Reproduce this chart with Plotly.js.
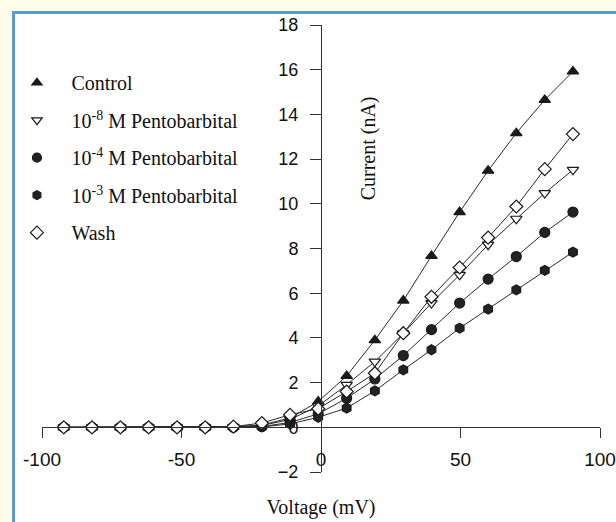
<!DOCTYPE html>
<html>
<head>
<meta charset="utf-8">
<script src="https://cdn.plot.ly/plotly-3.0.1.min.js"></script>
<style>
  html, body { margin: 0; padding: 0; background: #fffcea; }
  #frame {
    position: absolute; left: 12px; top: 11px; width: 604px; height: 511px;
    background: #ffffff;
    border-left: 3px solid #5b9bd5; border-top: 3px solid #5b9bd5;
    box-sizing: border-box;
  }
  #chart { position: absolute; left: 0; top: 0; width: 616px; height: 522px; }
</style>
</head>
<body>
<div id="frame"></div>
<div id="chart"></div>
<script>
// Holding potential steps (mV)
const voltage = [-92.2, -82.1, -71.9, -61.8, -51.6, -41.5, -31.4, -21.2, -11.1, -1.0,
                 9.2, 19.3, 29.5, 39.6, 49.7, 59.9, 70.0, 80.2, 90.3];

// Current responses (nA)
const control = [0, 0, 0, 0, 0, 0, 0.02, 0.10, 0.42, 1.15,
                 2.30, 3.90, 5.67, 7.67, 9.63, 11.48, 13.16, 14.65, 15.92];
const pento8  = [0, 0, 0, 0, 0, 0, 0.02, 0.08, 0.35, 0.95,
                 1.90, 2.94, 4.20, 5.56, 6.82, 8.17, 9.33, 10.48, 11.52];
const pento4  = [0, 0, 0, 0, 0, 0, 0, 0.03, 0.22, 0.60,
                 1.30, 2.16, 3.21, 4.37, 5.56, 6.63, 7.64, 8.72, 9.63];
const pento3  = [0, 0, 0, 0, 0, 0, 0, 0.02, 0.15, 0.45,
                 0.86, 1.63, 2.57, 3.47, 4.44, 5.29, 6.15, 7.02, 7.84];
const wash    = [0, 0, 0, 0, 0, 0, 0.03, 0.19, 0.56, 0.83,
                 1.60, 2.42, 4.21, 5.84, 7.15, 8.49, 9.88, 11.55, 13.12];

const seriesNames = ['Control', '10<sup>-8</sup> M Pentobarbital', '10<sup>-4</sup> M Pentobarbital',
                     '10<sup>-3</sup> M Pentobarbital', 'Wash'];
const xTicks = [-100, -50, 0, 50, 100];

const ink = '#1a1a1a';
const styles = [
  { symbol: 'triangle-up',   size: 10, color: ink,       line: ink, lsize: 9 },
  { symbol: 'triangle-down', size: 10, color: '#ffffff', line: ink, lsize: 9 },
  { symbol: 'circle',        size: 10, color: '#222222', line: ink, lsize: 9 },
  { symbol: 'hexagon',       size: 10, color: '#222222', line: ink, lsize: 9 },
  { symbol: 'diamond',       size: 10, color: '#ffffff', line: ink, lsize: 10 }
];
const seriesData = [control, pento8, pento4, pento3, wash];

const traces = [];
seriesData.forEach((ys, i) => {
  const s = styles[i];
  traces.push({
    x: voltage, y: ys, type: 'scatter', mode: 'lines+markers',
    showlegend: false, hoverinfo: 'skip',
    line: { color: '#2a2a2a', width: 1 },
    marker: { symbol: s.symbol, size: s.size, color: s.color, line: { color: s.line, width: 1.2 } }
  });
});
// Marker-only key entries
seriesData.forEach((ys, i) => {
  const s = styles[i];
  traces.push({
    x: [null], y: [null], type: 'scatter', mode: 'markers',
    name: seriesNames[i], legendgroup: 'g' + i, showlegend: true,
    marker: { symbol: s.symbol, size: s.lsize, color: s.color, line: { color: s.line, width: 1.2 } }
  });
});

const sans = 'Liberation Sans, Arial, sans-serif';
const serif = 'Liberation Serif, Times New Roman, serif';

const layout = {
  width: 616, height: 522,
  margin: { l: 42, r: 16, t: 25, b: 50, autoexpand: false },
  paper_bgcolor: 'rgba(0,0,0,0)', plot_bgcolor: 'rgba(0,0,0,0)',
  showlegend: true,
  xaxis: {
    range: [-100, 100], anchor: 'free', position: 0.1,
    tickvals: xTicks, ticktext: xTicks.map(String),
    ticks: 'outside', ticklen: 10, tickwidth: 1, tickcolor: '#333',
    showline: true, linecolor: '#333', linewidth: 1,
    showgrid: false, zeroline: false,
    tickfont: { family: sans, size: 19, color: '#111' }, ticklabelstandoff: 5,
    ticklabeloverflow: 'allow',
    title: { text: 'Voltage (mV)', font: { family: serif, size: 20, color: '#111' }, standoff: 30 }
  },
  yaxis: {
    range: [-2, 18], anchor: 'free', position: 0.5,
    dtick: 2, tick0: 0,
    ticks: 'outside', ticklen: 11, tickwidth: 1, tickcolor: '#333',
    showline: true, linecolor: '#333', linewidth: 1,
    showgrid: false, zeroline: false,
    tickfont: { family: sans, size: 18, color: '#111' }, ticklabelstandoff: 8,
    ticklabeloverflow: 'allow'
  },
  legend: {
    xref: 'container', yref: 'container',
    x: 0.004, y: 0.879, xanchor: 'left', yanchor: 'top',
    bgcolor: 'rgba(0,0,0,0)', borderwidth: 0,
    font: { family: serif, size: 20, color: '#111' },
    traceorder: 'grouped', tracegroupgap: 8.5, itemwidth: 59
  },
  annotations: [{
    text: 'Current (nA)', textangle: -90, showarrow: false,
    xref: 'paper', yref: 'paper', x: 0.585, y: 0.725,
    xanchor: 'center', yanchor: 'middle',
    font: { family: serif, size: 20, color: '#111' }
  }]
};

Plotly.newPlot('chart', traces, layout, { displayModeBar: false, staticPlot: true });
</script>
</body>
</html>
